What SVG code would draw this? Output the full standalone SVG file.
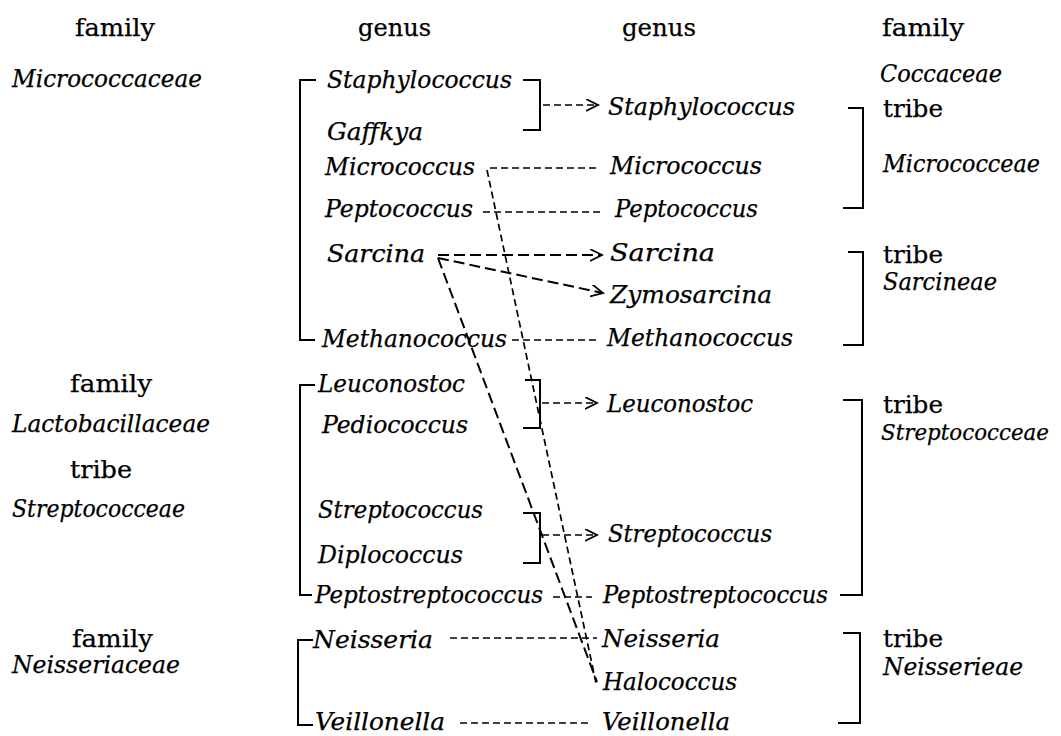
<svg xmlns="http://www.w3.org/2000/svg" width="1061" height="736" viewBox="0 0 1061 736">
<defs>
<style>
text{font-family:"DejaVu Serif","Liberation Serif",serif;font-size:24px;fill:#000;stroke:#000;stroke-width:0.25}
.i{font-style:italic}
.n{font-size:22px}
.br{fill:none;stroke:#000;stroke-width:2}
.d{fill:none;stroke:#000;stroke-width:1.7;stroke-dasharray:7 4}
.s{stroke-width:2;stroke-dasharray:11 5}
</style>
<marker id="ah" markerUnits="userSpaceOnUse" markerWidth="16" markerHeight="14" refX="12" refY="6" orient="auto">
<path d="M0,0 L12,6 L0,12" fill="none" stroke="#000" stroke-width="1.8"/>
</marker>
</defs>
<rect width="1061" height="736" fill="#fff"/>
<g id="headers">
<text x="75" y="36" textLength="80" lengthAdjust="spacingAndGlyphs">family</text>
<text x="358" y="36" textLength="73" lengthAdjust="spacingAndGlyphs">genus</text>
<text x="622" y="36" textLength="74" lengthAdjust="spacingAndGlyphs">genus</text>
<text x="882" y="36" textLength="82" lengthAdjust="spacingAndGlyphs">family</text>
</g>
<g id="left-families">
<text class="i" x="12" y="87" textLength="190" lengthAdjust="spacingAndGlyphs">Micrococcaceae</text>
<text x="70" y="392" textLength="82" lengthAdjust="spacingAndGlyphs">family</text>
<text class="i" x="12" y="432" textLength="198" lengthAdjust="spacingAndGlyphs">Lactobacillaceae</text>
<text x="70" y="478" textLength="62" lengthAdjust="spacingAndGlyphs">tribe</text>
<text class="i" x="12" y="517" textLength="173" lengthAdjust="spacingAndGlyphs">Streptococceae</text>
<text x="72" y="647" textLength="81" lengthAdjust="spacingAndGlyphs">family</text>
<text class="i" x="12" y="673" textLength="168" lengthAdjust="spacingAndGlyphs">Neisseriaceae</text>
</g>
<g id="old-genera">
<text class="i" x="327" y="88" textLength="185" lengthAdjust="spacingAndGlyphs">Staphylococcus</text>
<text class="i" x="327" y="140" textLength="96" lengthAdjust="spacingAndGlyphs">Gaffkya</text>
<text class="i" x="325" y="175" textLength="150" lengthAdjust="spacingAndGlyphs">Micrococcus</text>
<text class="i" x="325" y="217" textLength="148" lengthAdjust="spacingAndGlyphs">Peptococcus</text>
<text class="i" x="327" y="262" textLength="98" lengthAdjust="spacingAndGlyphs">Sarcina</text>
<text class="i" x="322" y="347" textLength="185" lengthAdjust="spacingAndGlyphs">Methanococcus</text>
<text class="i" x="318" y="392" textLength="147" lengthAdjust="spacingAndGlyphs">Leuconostoc</text>
<text class="i" x="322" y="433" textLength="146" lengthAdjust="spacingAndGlyphs">Pediococcus</text>
<text class="i" x="318" y="518" textLength="165" lengthAdjust="spacingAndGlyphs">Streptococcus</text>
<text class="i" x="318" y="563" textLength="145" lengthAdjust="spacingAndGlyphs">Diplococcus</text>
<text class="i" x="315" y="603" textLength="228" lengthAdjust="spacingAndGlyphs">Peptostreptococcus</text>
<text class="i" x="313" y="648" textLength="120" lengthAdjust="spacingAndGlyphs">Neisseria</text>
<text class="i" x="315" y="730" textLength="130" lengthAdjust="spacingAndGlyphs">Veillonella</text>
</g>
<g id="new-genera">
<text class="i" x="608" y="115" textLength="187" lengthAdjust="spacingAndGlyphs">Staphylococcus</text>
<text class="i" x="610" y="174" textLength="152" lengthAdjust="spacingAndGlyphs">Micrococcus</text>
<text class="i" x="615" y="217" textLength="143" lengthAdjust="spacingAndGlyphs">Peptococcus</text>
<text class="i" x="610" y="261" textLength="105" lengthAdjust="spacingAndGlyphs">Sarcina</text>
<text class="i" x="610" y="303" textLength="162" lengthAdjust="spacingAndGlyphs">Zymosarcina</text>
<text class="i" x="607" y="346" textLength="186" lengthAdjust="spacingAndGlyphs">Methanococcus</text>
<text class="i" x="607" y="412" textLength="146" lengthAdjust="spacingAndGlyphs">Leuconostoc</text>
<text class="i" x="608" y="542" textLength="164" lengthAdjust="spacingAndGlyphs">Streptococcus</text>
<text class="i" x="603" y="603" textLength="225" lengthAdjust="spacingAndGlyphs">Peptostreptococcus</text>
<text class="i" x="602" y="647" textLength="118" lengthAdjust="spacingAndGlyphs">Neisseria</text>
<text class="i" x="603" y="690" textLength="134" lengthAdjust="spacingAndGlyphs">Halococcus</text>
<text class="i" x="602" y="730" textLength="128" lengthAdjust="spacingAndGlyphs">Veillonella</text>
</g>
<g id="new-taxa">
<text class="i" x="880" y="82" textLength="122" lengthAdjust="spacingAndGlyphs">Coccaceae</text>
<text x="883" y="117" textLength="60" lengthAdjust="spacingAndGlyphs">tribe</text>
<text class="i" x="883" y="172" textLength="157" lengthAdjust="spacingAndGlyphs">Micrococceae</text>
<text x="883" y="263" textLength="60" lengthAdjust="spacingAndGlyphs">tribe</text>
<text class="i" x="883" y="290" textLength="114" lengthAdjust="spacingAndGlyphs">Sarcineae</text>
<text x="883" y="413" textLength="60" lengthAdjust="spacingAndGlyphs">tribe</text>
<text class="i n" x="881" y="440" textLength="168" lengthAdjust="spacingAndGlyphs">Streptococceae</text>
<text x="883" y="647" textLength="60" lengthAdjust="spacingAndGlyphs">tribe</text>
<text class="i" x="883" y="675" textLength="140" lengthAdjust="spacingAndGlyphs">Neisserieae</text>
</g>
<g id="brackets">
<path class="br" d="M316,80 H300 V340 H315"/>
<path class="br" d="M315,385 H300 V595 H312"/>
<path class="br" d="M313,640 H298 V725 H313"/>
<path class="br" d="M523,80 H540 V130 H523"/>
<path class="br" d="M525,380 H540 V428 H523"/>
<path class="br" d="M523,513 H540 V563 H523"/>
<path class="br" d="M848,108 H863 V208 H843"/>
<path class="br" d="M848,252 H863 V345 H843"/>
<path class="br" d="M843,400 H862 V595 H840"/>
<path class="br" d="M843,633 H860 V723 H838"/>
</g>
<g id="connectors">
<path class="d" d="M543,105 H598" marker-end="url(#ah)"/>
<path class="d" d="M490,168 H597"/>
<path class="d" d="M483,212 H602"/>
<path class="d s" d="M438,255 H602" marker-end="url(#ah)"/>
<path class="d s" d="M438,258 L603,293" marker-end="url(#ah)"/>
<path class="d" d="M512,340 H598"/>
<path class="d" d="M542,403 H597" marker-end="url(#ah)"/>
<path class="d" d="M542,535 H597" marker-end="url(#ah)"/>
<path class="d" d="M553,597 H592"/>
<path class="d" d="M450,638 H597"/>
<path class="d" d="M460,723 H588"/>
<path class="d" d="M487,170 L596,683"/>
<path class="d s" d="M438,258 L597,682"/>
</g>
</svg>
